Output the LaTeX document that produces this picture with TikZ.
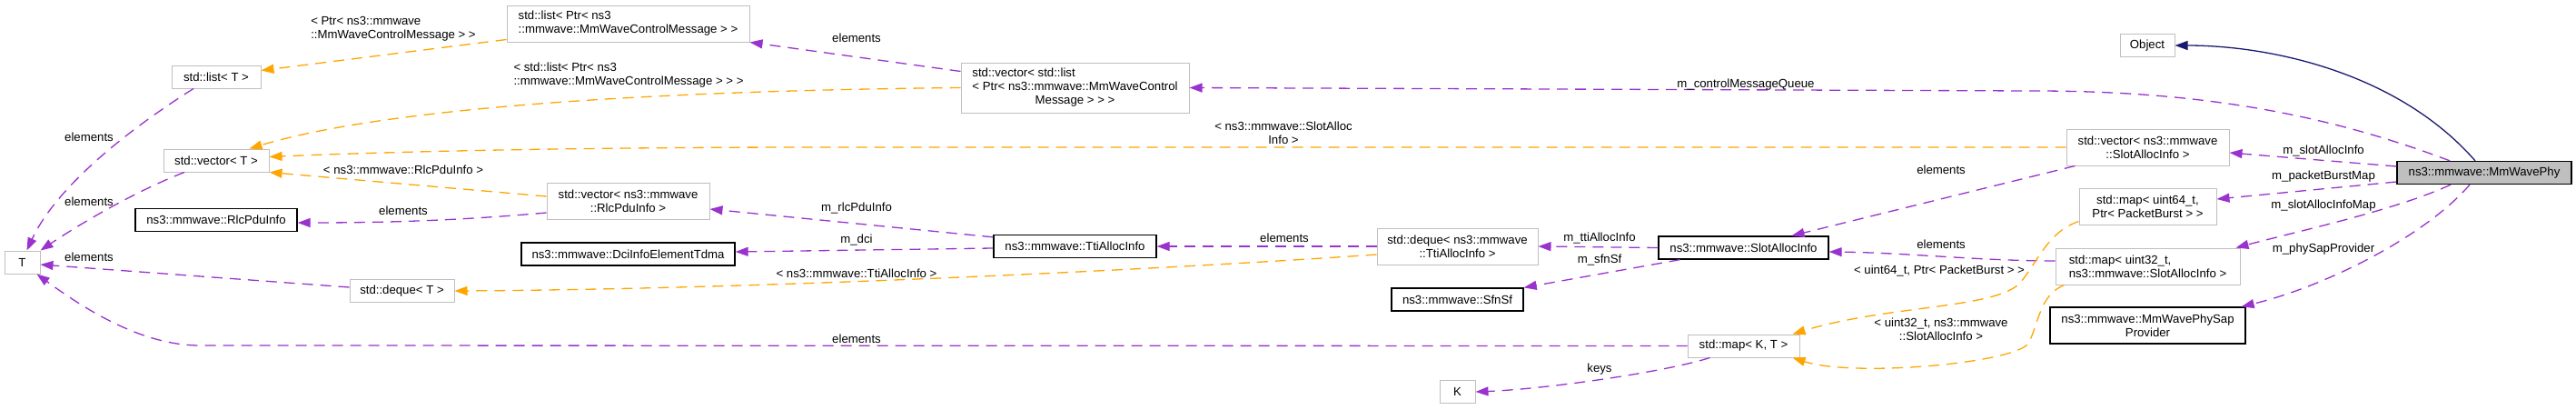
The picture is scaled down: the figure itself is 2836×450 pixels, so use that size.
\documentclass[tikz,border=0pt]{standalone}
\usepackage{fontspec}
\setmainfont{Liberation Sans}
\usetikzlibrary{arrows.meta}

\definecolor{usecol}{HTML}{9A32CD}
\definecolor{tmplcol}{HTML}{FFA500}
\definecolor{inhcol}{HTML}{191970}
\definecolor{boxgrey}{HTML}{BFBFBF}

\begin{document}
\begin{tikzpicture}[x=1pt,y=-1pt,>={Triangle[length=14pt,width=10pt]},
    font=\fontsize{13.2}{15}\selectfont,
    base node/.style={rectangle,draw=boxgrey,line width=1pt,inner sep=0pt,minimum height=25pt,align=center},
    doc node/.style={base node,draw=black,line width=1.3pt},
    self node/.style={doc node,fill=boxgrey},
    use edge/.style={->,usecol,line width=1.3pt,dash pattern=on 12pt off 8pt},
    tmpl edge/.style={->,tmplcol,line width=1.3pt,dash pattern=on 12pt off 8pt},
    inh edge/.style={->,inhcol,line width=1.3pt},
    edge label/.style={inner sep=0pt,align=center}]

  \useasboundingbox (0,0) rectangle (2836,450);

  % classes
  \node[self node,minimum width=192pt] (phy) at (2735,190) {ns3::mmwave::MmWavePhy};
  \node[base node,minimum width=60pt] (object) at (2364,50) {Object};
  \node[base node,minimum width=251pt,minimum height=55pt] (vctrl) at (1183.5,96.5)
    {\begin{tabular}{@{}l@{}}std::vector< std::list\\< Ptr< ns3::mmwave::MmWaveControl\\\multicolumn{1}{@{}c@{}}{Message > > >}\end{tabular}};
  \node[base node,minimum width=267pt,minimum height=40pt,align=left] (lctrl) at (691.5,26)
    {std::list< Ptr< ns3\\::mmwave::MmWaveControlMessage > >};
  \node[base node,minimum width=98pt] (listT) at (238,84.5) {std::list< T >};
  \node[base node,minimum width=116pt] (vecT) at (238,176.5) {std::vector< T >};
  \node[doc node,minimum width=178pt] (rlc) at (238,242) {ns3::mmwave::RlcPduInfo};
  \node[base node,minimum width=39pt] (tnode) at (24.5,288.5) {T};
  \node[base node,minimum width=115pt] (dequeT) at (442.5,320) {std::deque< T >};
  \node[base node,minimum width=179pt,minimum height=40pt] (vrlc) at (691.5,221)
    {std::vector< ns3::mmwave\\::RlcPduInfo >};
  \node[doc node,minimum width=235pt] (dci) at (691.5,279.5) {ns3::mmwave::DciInfoElementTdma};
  \node[doc node,minimum width=179pt] (tti) at (1183.5,271) {ns3::mmwave::TtiAllocInfo};
  \node[base node,minimum width=177pt,minimum height=40pt] (dtti) at (1604.5,271)
    {std::deque< ns3::mmwave\\::TtiAllocInfo >};
  \node[doc node,minimum width=145pt] (sfn) at (1604.5,329.5) {ns3::mmwave::SfnSf};
  \node[doc node,minimum width=187pt] (slot) at (1919.5,272.5) {ns3::mmwave::SlotAllocInfo};
  \node[base node,minimum width=123pt] (mapKT) at (1919.5,380.5) {std::map< K, T >};
  \node[base node,minimum width=39pt] (knode) at (1604.5,431) {K};
  \node[base node,minimum width=179pt,minimum height=40pt] (vslot) at (2364.5,162)
    {std::vector< ns3::mmwave\\::SlotAllocInfo >};
  \node[base node,minimum width=151pt,minimum height=40pt] (mburst) at (2364.5,227)
    {std::map< uint64\_t,\\Ptr< PacketBurst > >};
  \node[base node,minimum width=203pt,minimum height=40pt,align=left] (mslot) at (2364.5,293)
    {std::map< uint32\_t,\\ ns3::mmwave::SlotAllocInfo >};
  \node[doc node,minimum width=215pt,minimum height=40pt] (sap) at (2364.5,358)
    {ns3::mmwave::MmWavePhySap\\Provider};

  % inheritance
  \draw[inh edge] ([xshift=-10pt]phy.north) .. controls (2640,80) and (2500,50) .. (object.east);

  % members of MmWavePhy
  \draw[use edge] ([xshift=-38pt]phy.north) .. controls (2560,125) and (2420,100) .. (2240,100) -- (vctrl.east);
  \draw[use edge] ([yshift=7pt]phy.west) -- ([yshift=-6pt]vslot.east);
  \draw[use edge] ([yshift=-10pt]phy.west) -- ([yshift=8pt]mburst.east);
  \draw[use edge] ([xshift=-37pt]phy.south) .. controls (2640,230) and (2540,252) .. ([xshift=-5pt]mslot.north east);
  \draw[use edge] ([xshift=-16pt]phy.south) .. controls (2670,260) and (2560,315) .. ([xshift=-5pt]sap.north east);

  % containers and templates
  \draw[use edge] ([yshift=18pt]vctrl.west) -- (lctrl.south east);
  \draw[tmpl edge] (vctrl.west) .. controls (700,100) and (420,120) .. ([xshift=-22pt]vecT.north east);
  \draw[tmpl edge] ([yshift=3pt]lctrl.south west) -- ([yshift=7pt]listT.east);
  \draw[use edge] ([xshift=-25pt]listT.south) .. controls (130,150) and (60,210) .. ([xshift=5pt]tnode.north);
  \draw[use edge] ([xshift=-35pt]vecT.south) .. controls (150,210) and (90,245) .. (tnode.north east);
  \draw[use edge] ([yshift=4pt]dequeT.west) -- ([yshift=-2.5pt]tnode.east);
  \draw[use edge] (mapKT.west) -- (220,380) .. controls (160,380) and (100,345) .. ([xshift=-4pt]tnode.south east);
  \draw[use edge] ([xshift=-37pt]mapKT.south) .. controls (1830,410) and (1700,428) .. (knode.east);
  \draw[tmpl edge] ([yshift=5pt]vrlc.west) -- (vecT.south east);
  \draw[use edge] ([yshift=-13pt]vrlc.west) .. controls (500,243) and (420,245) .. ([yshift=-3pt]rlc.east);
  \draw[use edge] ([yshift=-3pt]tti.north west) -- ([yshift=-9pt]vrlc.east);
  \draw[use edge] ([yshift=-2pt]tti.west) -- ([yshift=2.5pt]dci.east);
  \draw[use edge] (dtti.west) -- (tti.east);
  \draw[tmpl edge] ([yshift=-9pt]dtti.west) .. controls (1300,295) and (850,318) .. (dequeT.east);
  \draw[use edge] (slot.west) -- (dtti.east);
  \draw[use edge] ([xshift=-70pt]slot.south) -- (sfn.north east);
  \draw[use edge] ([xshift=10pt]vslot.south west) -- ([xshift=53pt]slot.north);
  \draw[tmpl edge] (vslot.west) -- (900,162) .. controls (600,162) and (400,168) .. ([yshift=4pt]vecT.east);
  \draw[use edge] ([yshift=6pt]mslot.west) .. controls (2180,287) and (2100,278) .. ([yshift=-4.5pt]slot.east);
  \draw[tmpl edge] ([yshift=4pt]mburst.south west) .. controls (2255,255) and (2245,285) .. (2225,310)
    .. controls (2200,340) and (2080,335) .. ([xshift=-8pt]mapKT.north east);
  \draw[tmpl edge] ([xshift=10pt]mslot.south west) .. controls (2245,325) and (2245,355) .. (2233,378)
    .. controls (2215,400) and (2040,415) .. ([xshift=-8pt]mapKT.south east);

  % labels
  \node[edge label] (lblobj) at (1922,93) {m\_controlMessageQueue};
  \node[edge label] (lblslot) at (2558,166) {m\_slotAllocInfo};
  \node[edge label] (lblburst) at (2558,194) {m\_packetBurstMap};
  \node[edge label] (lblslotmap) at (2558,226) {m\_slotAllocInfoMap};
  \node[edge label] (lblsap) at (2558,274) {m\_phySapProvider};
  \node[edge label] (lblctrl) at (943,42) {elements};
  \node[edge label,align=left] (lblvctrl) at (692,83) {< std::list< Ptr< ns3\\::mmwave::MmWaveControlMessage > > >};
  \node[edge label,align=left] (lbllctrl) at (433,32) {< Ptr< ns3::mmwave\\::MmWaveControlMessage > >};
  \node[edge label] (lbllistT) at (98,151) {elements};
  \node[edge label] (lblvecT) at (98,222) {elements};
  \node[edge label] (lbldequeT) at (98,283) {elements};
  \node[edge label] (lblmapT) at (943,373) {elements};
  \node[edge label] (lblkeys) at (1761,406) {keys};
  \node[edge label] (lblvrlcT) at (444,187) {< ns3::mmwave::RlcPduInfo >};
  \node[edge label] (lblvrlc) at (444,232) {elements};
  \node[edge label] (lblrlcinfo) at (943,229) {m\_rlcPduInfo};
  \node[edge label] (lbldci) at (943,264) {m\_dci};
  \node[edge label] (lbldttiT) at (943,301) {< ns3::mmwave::TtiAllocInfo >};
  \node[edge label] (lbldtti) at (1414,262) {elements};
  \node[edge label] (lblvslotT) at (1413,146) {< ns3::mmwave::SlotAlloc\\Info >};
  \node[edge label] (lbltti) at (1761,262) {m\_ttiAllocInfo};
  \node[edge label] (lblsfn) at (1761,286) {m\_sfnSf};
  \node[edge label] (lblvslot) at (2137,187) {elements};
  \node[edge label] (lblmslot) at (2137,269) {elements};
  \node[edge label] (lblburstT) at (2135,298) {< uint64\_t, Ptr< PacketBurst > >};
  \node[edge label] (lblmslotT) at (2137,362) {< uint32\_t, ns3::mmwave\\::SlotAllocInfo >};
\end{tikzpicture}
\end{document}
